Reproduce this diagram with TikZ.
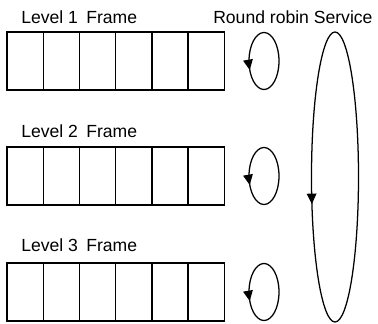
\documentclass[tikz,border=0pt]{standalone}
\usepackage{fontspec}
\setmainfont{Liberation Sans}
\usetikzlibrary{arrows.meta,decorations.markings}

\begin{document}
\begin{tikzpicture}[x=0.025cm, y=0.025cm,
    cell/.style = {draw, line width=0.9pt, minimum width=0.905cm, minimum height=1.45cm, inner sep=0pt},
    label/.style = {anchor=west, inner sep=0pt, font=\fontsize{12.5}{15}\selectfont},
    turn/.style = {line width=0.9pt, postaction={decorate},
        decoration={markings, mark=at position #1 with {\arrow{Triangle[length=0.26cm, width=0.24cm]}}}}]
    \useasboundingbox (0,0) rectangle (378,324);

    \node[label] (t1) at (21, 307) {Level 1\hspace{6pt}Frame};
    \node[label] (t2) at (21, 193) {Level 2\hspace{6pt}Frame};
    \node[label] (t3) at (21, 79) {Level 3\hspace{6pt}Frame};
    \node[label] (rr) at (213, 307) {Round robin Service};

    % frames
    \foreach \i in {1,...,6} {
        \node[cell] (a\i) at (-11+36.2*\i, 263) {};
        \node[cell] (b\i) at (-11+36.2*\i, 148) {};
        \node[cell] (c\i) at (-11+36.2*\i, 32) {};
    }

    % round robin
    \coordinate (r1) at (264, 263);
    \coordinate (r2) at (264, 148);
    \coordinate (r3) at (264, 32);
    \coordinate (all) at (335, 147);

    \draw[turn=0.565] (r1) ellipse (15 and 28.5);
    \draw[turn=0.565] (r2) ellipse (15 and 28.5);
    \draw[turn=0.565] (r3) ellipse (15 and 28.5);
    \draw[turn=0.545] (all) ellipse (23.5 and 145);

\end{tikzpicture}
\end{document}
